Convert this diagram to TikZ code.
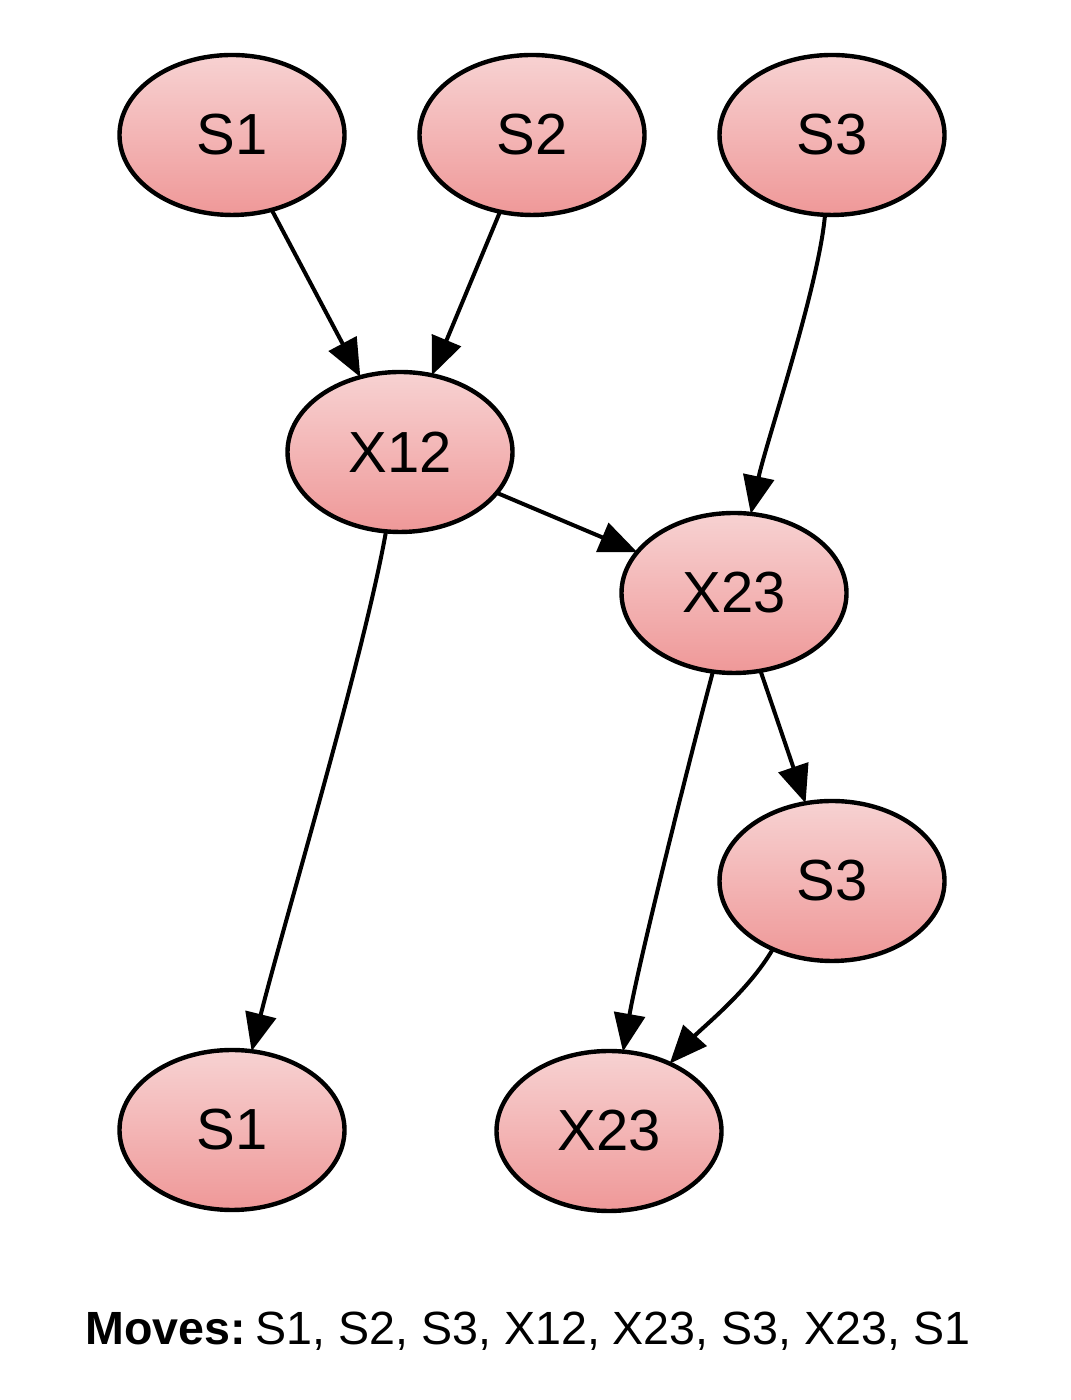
\documentclass[tikz,border=0pt]{standalone}
\usepackage{fontspec}
\setmainfont{Liberation Sans}
\usetikzlibrary{shapes,shapes.geometric,arrows.meta}
\definecolor{stateTop}{RGB}{247,210,210}
\definecolor{stateBot}{RGB}{239,152,152}

\begin{document}
\begin{tikzpicture}[x=0.5pt,y=0.5pt]
	\tikzstyle{state}=[ellipse, draw, line width=2.2pt, top color=stateTop, bottom color=stateBot, minimum width=112.5pt, minimum height=80pt, inner sep=0pt, outer sep=0pt, font=\fontsize{29}{34}\selectfont]
	\tikzstyle{move}=[line width=2pt, -{Triangle[length=19pt,width=15.5pt]}]
	\useasboundingbox (0,0) rectangle (1070,1400);
	\node[state] (s1) at (232,1265) {S1};
	\node[state] (s2) at (532,1265) {S2};
	\node[state] (s3) at (832,1265) {S3};
	\node[state] (x12) at (400,948) {X12};
	\node[state] (x23) at (734,807) {X23};
	\node[state] (s3b) at (832,519) {S3};
	\node[state] (s1b) at (232,270) {S1};
	\node[state] (x23b) at (609,269) {X23};
	\draw[move] (s1) -- (x12);
	\draw[move] (s2) -- (x12);
	\draw[move] (x12) -- (x23);
	\draw[move] (x23) -- (s3b);
	\draw[move] (s3) to[out=-95,in=78,looseness=0.6] (x23);
	\draw[move] (x12) to[out=-100,in=76,looseness=0.6] (s1b);
	\draw[move] (x23) to[out=-105,in=80,looseness=0.6] (x23b);
	\draw[move] (s3b.-131) to[out=-120,in=48,looseness=0.8] (x23b);
	\node[anchor=base, font=\fontsize{23.3}{28}\selectfont] (moves) at (528,55) {\textbf{Moves:}\hspace{0.2em}S1, S2, S3, X12, X23, S3, X23, S1};
\end{tikzpicture}
\end{document}
